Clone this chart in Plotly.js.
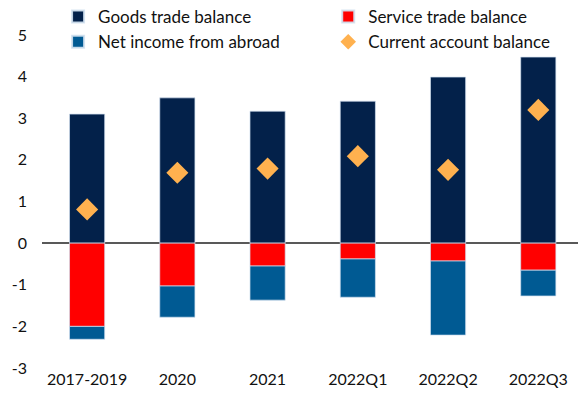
<!DOCTYPE html>
<html>
<head>
<meta charset="utf-8">
<script src="https://cdn.plot.ly/plotly-3.0.1.min.js"></script>
<style>html,body{margin:0;padding:0;background:#fff;}#chart{width:578px;height:402px;}</style>
</head>
<body>
<div id="chart"></div>
<script>
const categories = ["2017-2019", "2020", "2021", "2022Q1", "2022Q2", "2022Q3"];
const goodsTrade = [3.10, 3.49, 3.17, 3.41, 3.99, 4.47];
const serviceTrade = [-2.00, -1.03, -0.55, -0.38, -0.43, -0.65];
const netIncome = [-0.31, -0.75, -0.82, -0.92, -1.78, -0.62];
const currentAccount = [0.81, 1.69, 1.79, 2.09, 1.76, 3.20];
const yTicks = [-3, -2, -1, 0, 1, 2, 3, 4, 5];
const yTickText = ["-3", "-2", "-1", "0", "1", "2", "3", "4", "5"];

const barLine = {color: "rgba(210,225,240,0.9)", width: 0.8};
const fontFam = "Lato, 'Open Sans', 'Noto Sans', sans-serif";

const traces = [
  {type: "bar", name: "Goods trade balance", x: categories, y: goodsTrade, legend: "legend",
   marker: {color: "#03214A", line: barLine}, width: 0.39},
  {type: "bar", name: "Service trade balance", x: categories, y: serviceTrade, legend: "legend2",
   marker: {color: "#FF0000", line: barLine}, width: 0.39},
  {type: "bar", name: "Net income from abroad", x: categories, y: netIncome, legend: "legend",
   marker: {color: "#005A93", line: barLine}, width: 0.39},
  {type: "scatter", mode: "markers", name: "Current account balance", x: categories, y: currentAccount,
   legend: "legend2", marker: {symbol: "diamond", size: 17, color: "#FFB14F"}}
];

const legendCommon = {orientation: "v", xanchor: "left", y: 1.108, yanchor: "top",
  traceorder: "normal", font: {size: 17, color: "#111"}, bgcolor: "rgba(0,0,0,0)",
  tracegroupgap: 0, itemsizing: "constant"};

const layout = {
  width: 578, height: 402,
  margin: {l: 42, r: 0, t: 35, b: 34, autoexpand: false},
  barmode: "relative",
  paper_bgcolor: "#fff", plot_bgcolor: "#fff",
  font: {family: fontFam, size: 16, color: "#111"},
  showlegend: true,
  legend: Object.assign({}, legendCommon, {x: 0.03}),
  legend2: Object.assign({}, legendCommon, {x: 0.534}),
  xaxis: {type: "category", range: [-0.5, 5.44], showgrid: false, showline: false,
          zeroline: false, ticks: "", tickfont: {size: 16}, automargin: false},
  yaxis: {range: [-3, 5], tickvals: yTicks, ticktext: yTickText, showgrid: false, showline: false,
          zeroline: true, zerolinecolor: "#595959", zerolinewidth: 2, automargin: false,
          ticks: "", ticklabelstandoff: 14, tickfont: {size: 16}}
};

Plotly.newPlot("chart", traces, layout, {displayModeBar: false, staticPlot: true});
</script>
</body>
</html>
